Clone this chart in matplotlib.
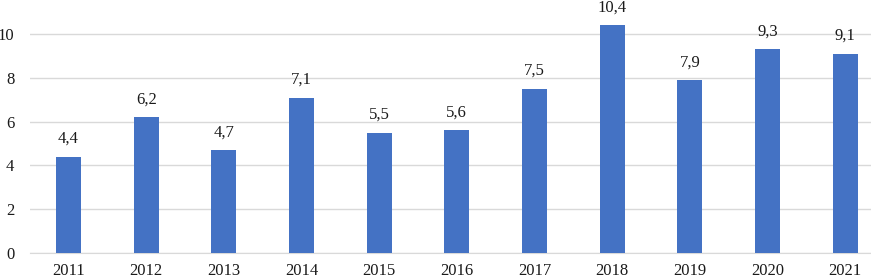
import matplotlib.pyplot as plt

years = ['2011', '2012', '2013', '2014', '2015', '2016', '2017', '2018', '2019', '2020', '2021']
values = [4.4, 6.2, 4.7, 7.1, 5.5, 5.6, 7.5, 10.4, 7.9, 9.3, 9.1]
labels = ['4,4', '6,2', '4,7', '7,1', '5,5', '5,6', '7,5', '10,4', '7,9', '9,3', '9,1']

plt.rcParams['font.family'] = ['Liberation Serif', 'DejaVu Serif']

fig = plt.figure(figsize=(8.71, 2.79), dpi=100)
# axes run a little past the right edge, like the cropped original
ax = fig.add_axes([29.7 / 871, 26 / 279, 854.3 / 871, 12 * 21.9 / 279])

x = range(len(years))
bars = ax.bar(x, values, width=0.32, color='#4472C4', zorder=3)
for b, lab in zip(bars, labels):
    ax.annotate(lab, (b.get_x() + b.get_width() / 2, b.get_height()),
                xytext=(0, 7), textcoords='offset points',
                ha='center', va='bottom', fontsize=12, color='#1a1a1a')

ax.set_xlim(-0.5, len(years) - 0.5)
ax.set_ylim(0, 12)
ax.set_yticks([0, 2, 4, 6, 8, 10])
ax.set_xticks(list(x))
ax.set_xticklabels(years)
ax.yaxis.grid(True, color='#d9d9d9', linewidth=1, zorder=0)
ax.tick_params(axis='both', length=0, labelsize=12, colors='#1a1a1a')
ax.tick_params(axis='y', pad=11)
ax.tick_params(axis='x', pad=7)
for s in ['top', 'right', 'left']:
    ax.spines[s].set_visible(False)
ax.spines['bottom'].set_color('#d9d9d9')

fig.savefig('out.png', dpi=100)
